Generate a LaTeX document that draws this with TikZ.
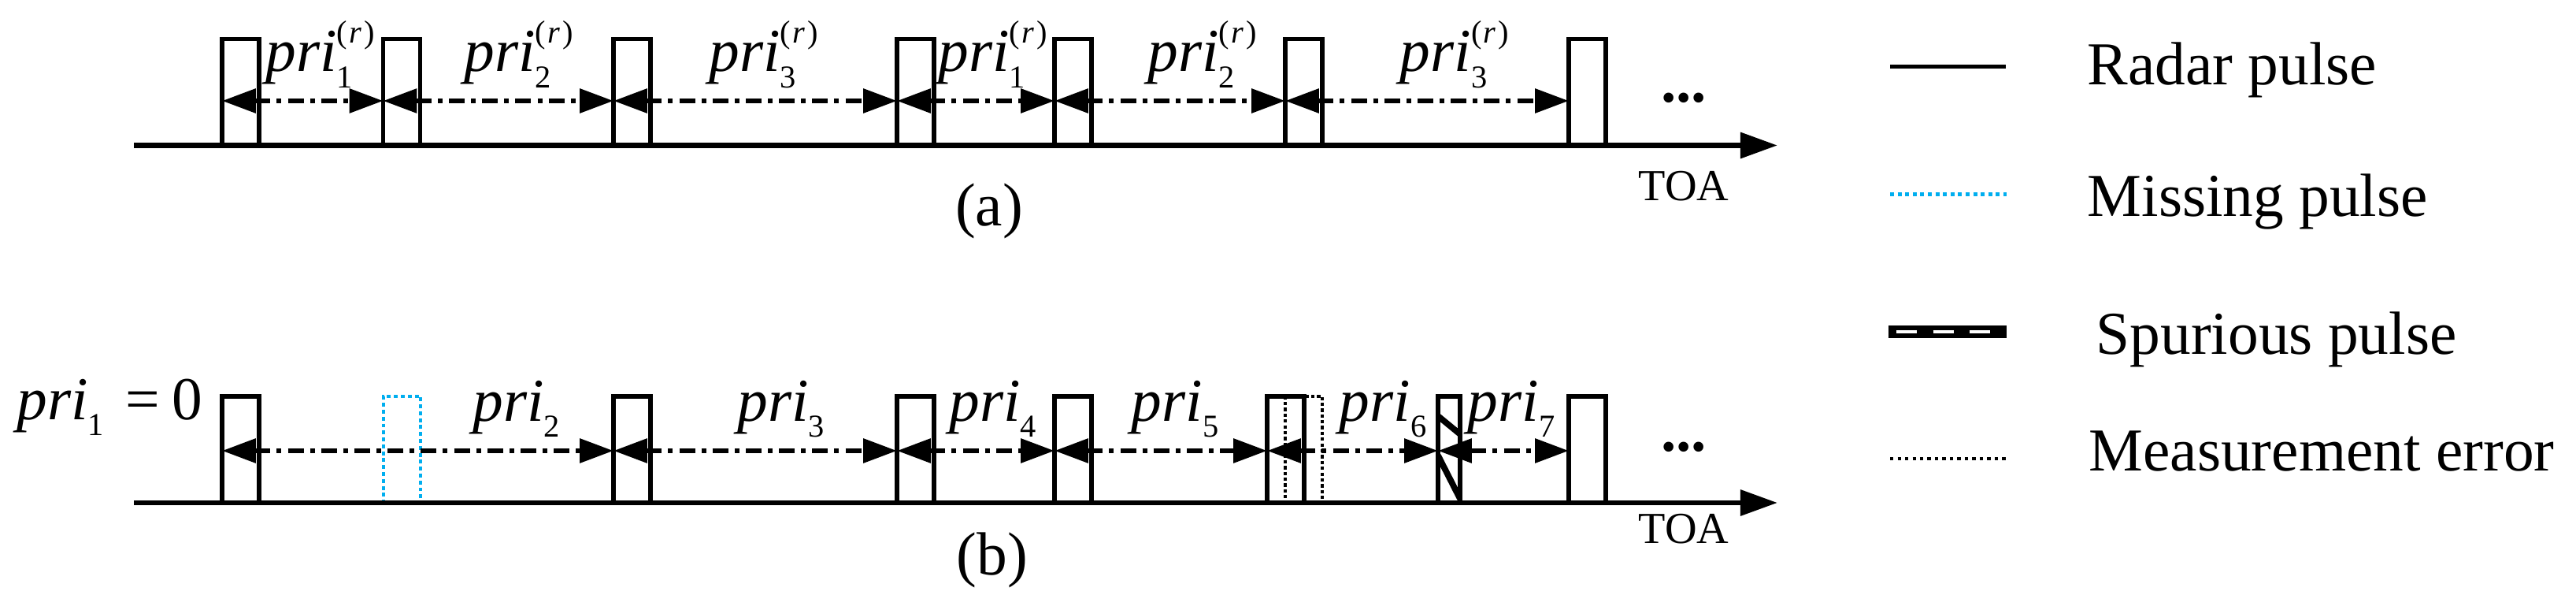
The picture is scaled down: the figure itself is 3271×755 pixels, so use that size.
\documentclass[tikz,border=0pt]{standalone}
\usepackage{fontspec}
\setmainfont{Liberation Serif}
\usetikzlibrary{arrows.meta}
\definecolor{misscol}{RGB}{0,174,239}
\newcommand{\subsz}{\fontsize{11.5}{12}\selectfont}
\newcommand{\prir}[1]{\textit{pri}\rlap{\raisebox{-0.27em}{\subsz #1}}\raisebox{0.47em}{\subsz(\kern0.5pt\textit{r}\kern1pt)}}
\newcommand{\prin}[1]{\textit{pri}\raisebox{-0.25em}{\subsz #1}}
\tikzstyle{pulse} = [rectangle, draw, line width=1.5pt, anchor=south west,
    inner sep=0pt, outer sep=0pt, minimum width=0.47cm, minimum height=1.35cm]
\tikzstyle{missing} = [pulse, draw=misscol, line width=1.1pt, dash pattern=on 1.4pt off 1.1pt]
\tikzstyle{measerr} = [pulse, line width=1.2pt, dash pattern=on 1.2pt off 0.9pt]
\tikzstyle{spurious} = [pulse, minimum width=0.28cm, path picture={
    \draw[line width=2.2pt] ([yshift=-0.25cm]path picture bounding box.north west) -- ([yshift=-0.48cm]path picture bounding box.north east);
    \draw[line width=2.2pt] ([yshift=-0.75cm]path picture bounding box.north west) -- ([yshift=-1.3cm]path picture bounding box.north east);}]
\tikzstyle{gap} = [{Triangle[length=12.2pt,width=8.5pt]}-{Triangle[length=12.2pt,width=8.5pt]},
    line width=1.8pt, dash pattern=on 5.7pt off 2.3pt on 1.7pt off 2.3pt]
\tikzstyle{toa} = [-{Triangle[length=13.4pt,width=9.1pt]}, line width=1.85pt]
\tikzstyle{lab} = [anchor=base west, inner sep=0pt]

\begin{document}
\begin{tikzpicture}[x=0.01cm,y=-0.01cm,font=\fontsize{22}{26}\selectfont]
  \useasboundingbox (0,0) rectangle (3271,755);
  \coordinate (ya) at (0,128);
  \coordinate (yb) at (0,572);

  \node[pulse] (a1) at (282,184.5) {};
  \node[pulse] (a2) at (486.5,184.5) {};
  \node[pulse] (a3) at (779,184.5) {};
  \node[pulse] (a4) at (1139,184.5) {};
  \node[pulse] (a5) at (1339,184.5) {};
  \node[pulse] (a6) at (1632,184.5) {};
  \node[pulse] (a7) at (1992,184.5) {};
  \coordinate (oa) at (170,184.5);
  \coordinate (ea) at (2257,184.5);
  \draw[toa] (oa) -- (ea);

  \path (a1.south west |- ya) edge[gap] (a2.south west |- ya)
  (a2.south west |- ya) edge[gap] (a3.south west |- ya)
  (a3.south west |- ya) edge[gap] (a4.south west |- ya)
  (a4.south west |- ya) edge[gap] (a5.south west |- ya)
  (a5.south west |- ya) edge[gap] (a6.south west |- ya)
  (a6.south west |- ya) edge[gap] (a7.south west |- ya);

  \node[lab] (la1) at (337,91) {\prir{1}};
  \node[lab] (la2) at (589,91) {\prir{2}};
  \node[lab] (la3) at (900,91) {\prir{3}};
  \node[lab] (la4) at (1191,91) {\prir{1}};
  \node[lab] (la5) at (1457,91) {\prir{2}};
  \node[lab] (la6) at (1777,91) {\prir{3}};
  \node[anchor=base] (dota) at (2138,130) {\textbf{...}};
  \node[anchor=base,font=\fontsize{16}{18}\selectfont] (toaa) at (2138,255) {TOA};
  \node[anchor=base] (capa) at (1256,287) {(a)};

  \node[pulse] (b1) at (282,638) {};
  \node[missing] (b2) at (487,638) {};
  \node[pulse] (b3) at (779,638) {};
  \node[pulse] (b4) at (1139,638) {};
  \node[pulse] (b5) at (1339,638) {};
  \node[measerr] (b6e) at (1632,638) {};
  \node[pulse] (b6) at (1609,638) {};
  \node[spurious] (b7) at (1826,638) {};
  \node[pulse] (b8) at (1992,638) {};
  \coordinate (ob) at (170,638);
  \coordinate (eb) at (2257,638);
  \draw[toa] (ob) -- (eb);

  \path (b1.south west |- yb) edge[gap] (b3.south west |- yb)
  (b3.south west |- yb) edge[gap] (b4.south west |- yb)
  (b4.south west |- yb) edge[gap] (b5.south west |- yb)
  (b5.south west |- yb) edge[gap] (b6.south west |- yb)
  (b6.south west |- yb) edge[gap] (b7.south west |- yb)
  (b7.south west |- yb) edge[gap] (b8.south west |- yb);

  \node[lab] (lb1) at (21,533) {\prin{1}\hspace{0.35em}=\hspace{0.2em}0};
  \node[lab] (lb2) at (600,535) {\prin{2}};
  \node[lab] (lb3) at (936,535) {\prin{3}};
  \node[lab] (lb4) at (1205,535) {\prin{4}};
  \node[lab] (lb5) at (1436,535) {\prin{5}};
  \node[lab] (lb6) at (1700,535) {\prin{6}};
  \node[lab] (lb7) at (1863,535) {\prin{7}};
  \node[anchor=base] (dotb) at (2138,573) {\textbf{...}};
  \node[anchor=base,font=\fontsize{16}{18}\selectfont] (toab) at (2138,690) {TOA};
  \node[anchor=base] (capb) at (1260,730) {(b)};

  \coordinate (k1) at (2400,85);   \coordinate (k1e) at (2547,85);
  \coordinate (k2) at (2400,247);  \coordinate (k2e) at (2548,247);
  \coordinate (k3) at (2398,421);  \coordinate (k3e) at (2548,421);
  \coordinate (k4) at (2400,582);  \coordinate (k4e) at (2548,582);
  \draw[line width=1.42pt] (k1) -- (k1e);
  \draw[misscol, line width=1.42pt, dash pattern=on 1.42pt off 1.31pt] (k2) -- (k2e);
  \draw[line width=4.55pt, postaction={draw=white, line width=1pt,
      dash pattern=on 7.4pt off 5.9pt, shorten <=2.8pt}] (k3) -- (k3e);
  \draw[line width=1.4pt, dash pattern=on 1.2pt off 1.5pt] (k4) -- (k4e);
  \node[lab] (t1) at (2650,108) {Radar pulse};
  \node[lab] (t2) at (2650,275) {Missing pulse};
  \node[lab] (t3) at (2661,450) {Spurious pulse};
  \node[lab] (t4) at (2652,598) {Measurement error};
\end{tikzpicture}
\end{document}
